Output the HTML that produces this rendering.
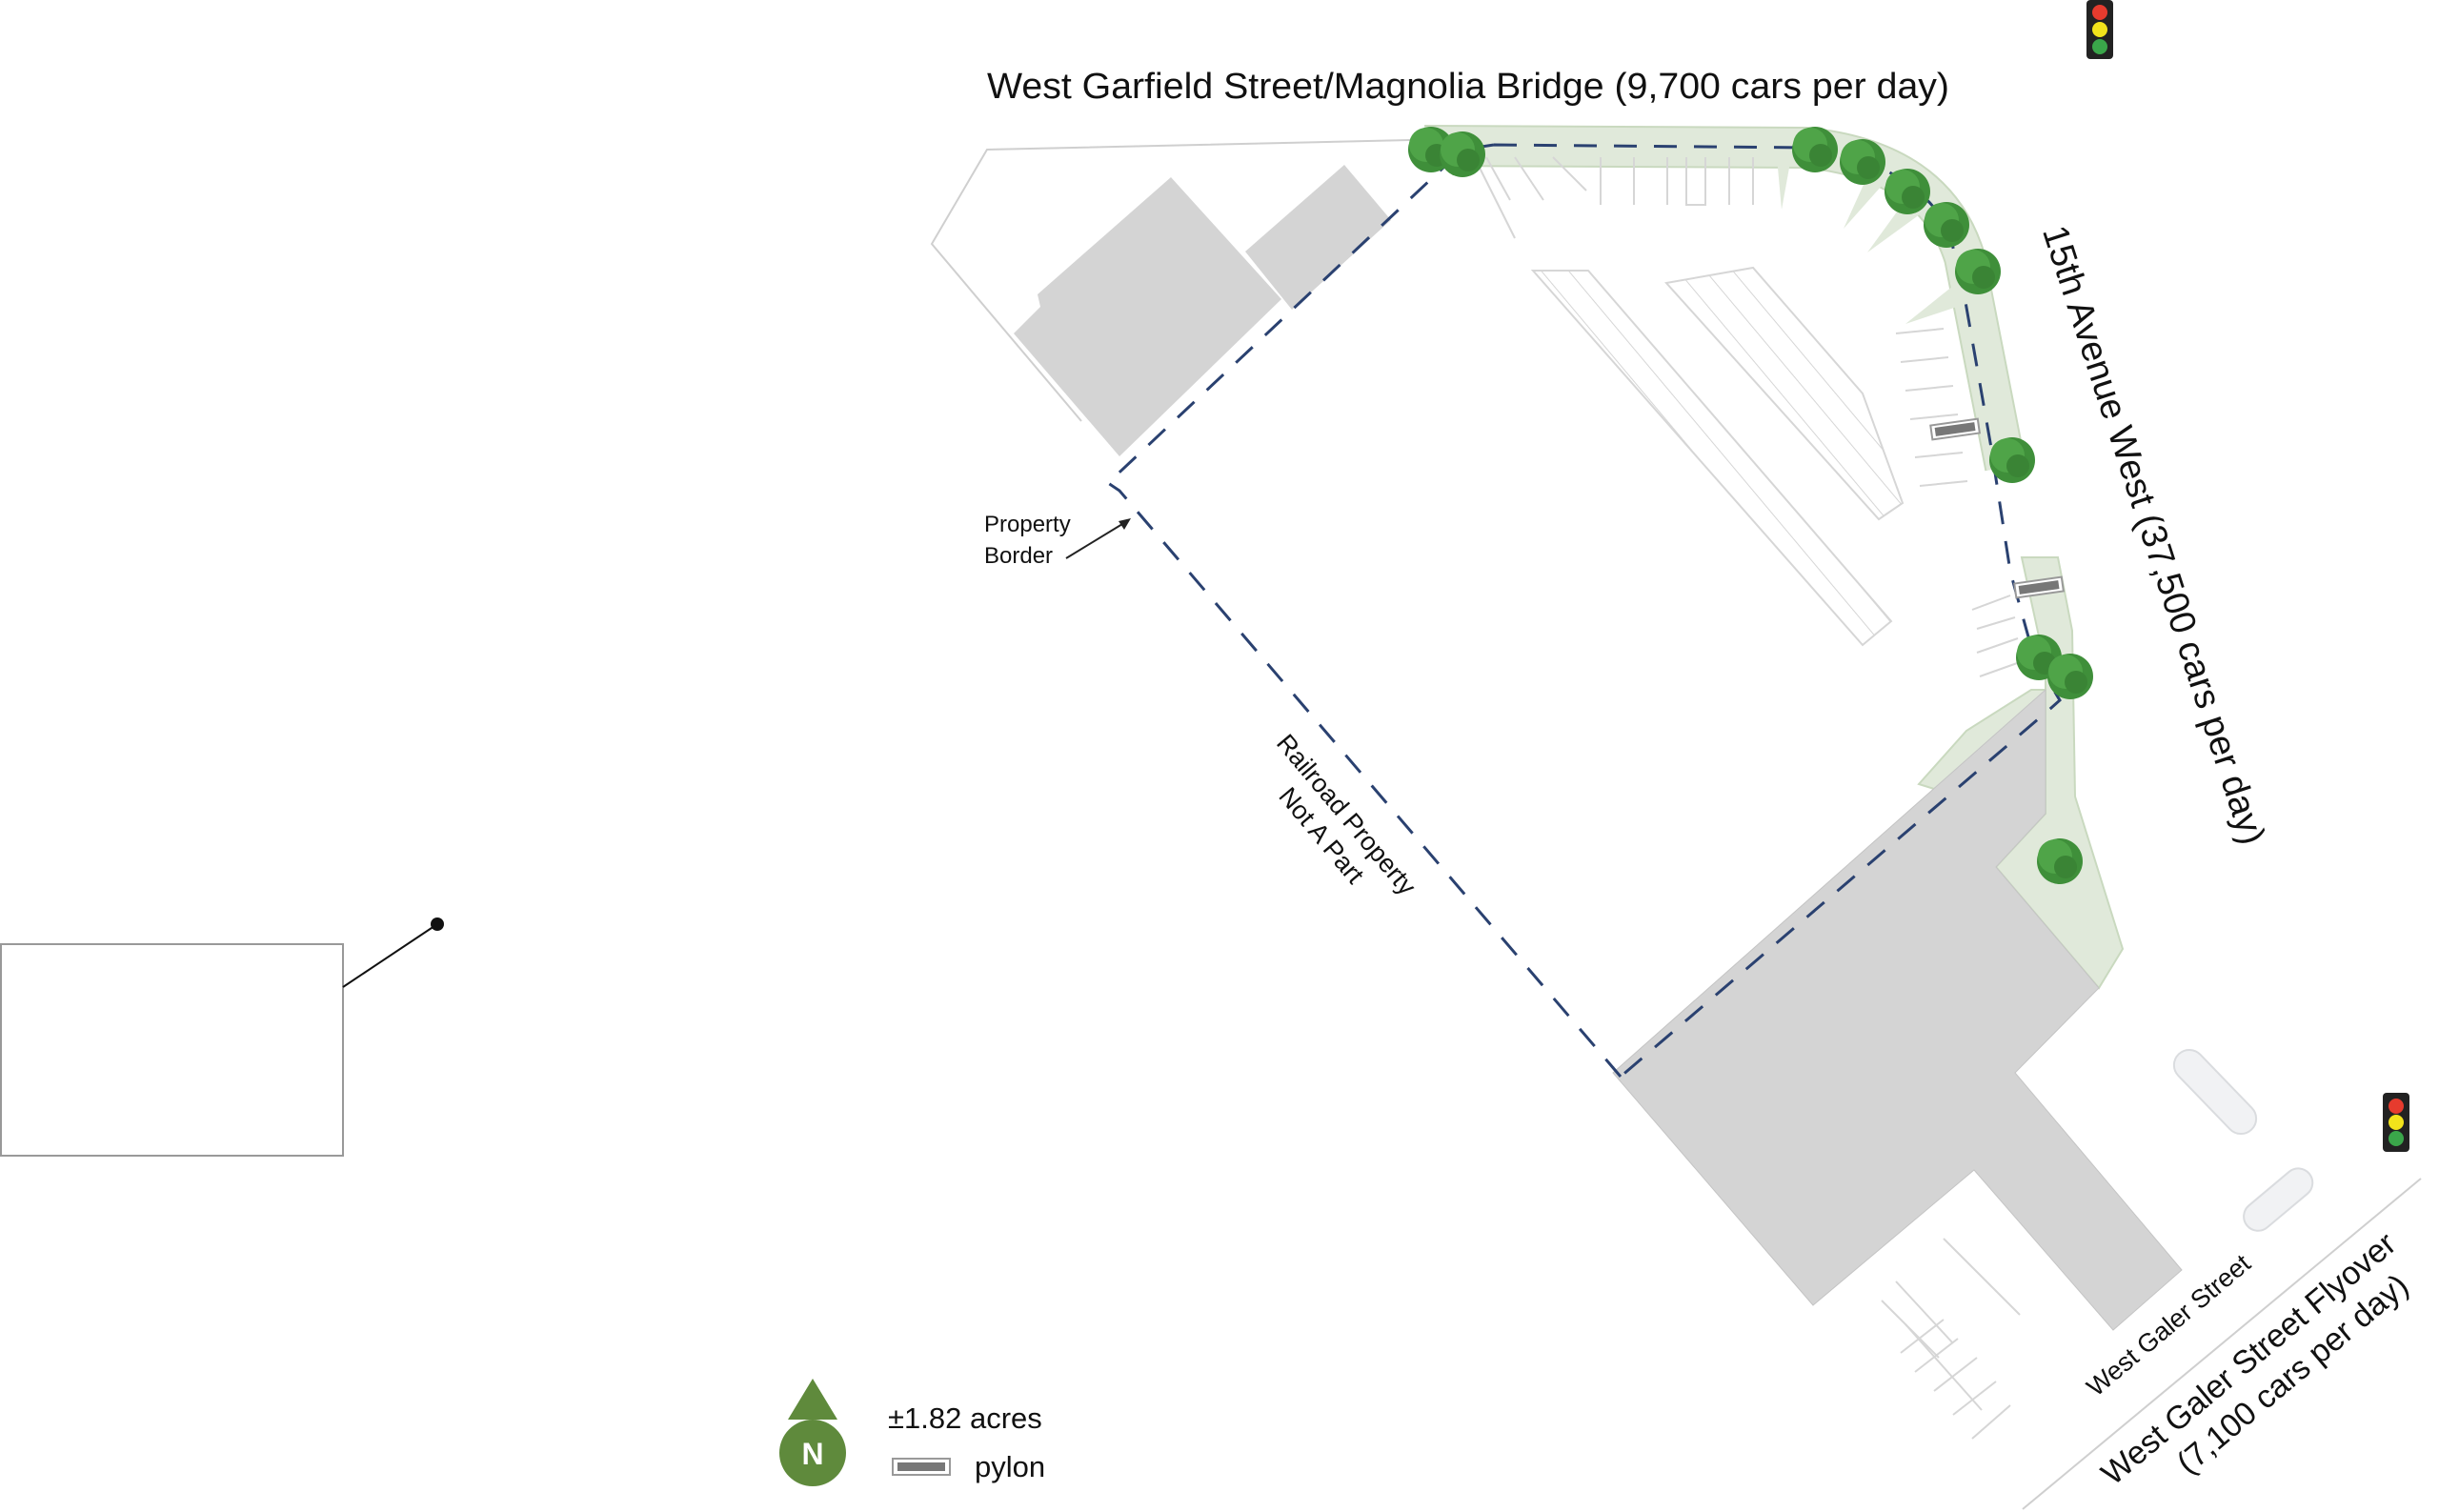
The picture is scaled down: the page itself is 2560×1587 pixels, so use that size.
<!DOCTYPE html>
<html><head><meta charset="utf-8"><style>html,body{margin:0;padding:0;background:#fff}svg{display:block}text{font-family:"Liberation Sans",sans-serif;fill:#111}</style></head>
<body>
<svg width="2560" height="1587" viewBox="0 0 2560 1587" xmlns="http://www.w3.org/2000/svg">
<defs>
<pattern id="h1" width="22" height="22" patternUnits="userSpaceOnUse" patternTransform="rotate(-40)"><line x1="0" y1="0" x2="0" y2="22" stroke="#d6d6d6" stroke-width="2"/></pattern>
<g id="tree"><circle r="24" fill="#3f8f3a"/><circle cx="-5" cy="-5" r="18" fill="#4fa448"/><circle cx="6" cy="6" r="12" fill="#3a8435"/></g>
</defs>
<polyline points="1480,147 1036,157 978,256 1135,442" fill="none" stroke="#cfcfcf" stroke-width="2"/>
<polygon points="1229,186 1345,314 1175,479 1064,350 1092,322 1089,309" fill="#d4d4d4"/>
<polygon points="1411,173 1460,231 1356,325 1307,264" fill="#d4d4d4"/>
<path d="M1495,153 L1895,155 Q2030,168 2062,270 L2105,490" fill="none" stroke="#c9d9bf" stroke-width="44" stroke-linejoin="round"/>
<path d="M1495,153 L1895,155 Q2030,168 2062,270 L2105,490" fill="none" stroke="#e0e9da" stroke-width="40" stroke-linejoin="round"/>
<polygon points="2122,585 2160,585 2175,662 2178,836 2228,996 2203,1037 2095,910 2147,854 2147,700" fill="#e0e9da" stroke="#c9d9bf" stroke-width="2"/>
<polygon points="2014,823 2064,767 2132,724 2147,724 2147,740 2030,828" fill="#e0e9da" stroke="#c9d9bf" stroke-width="2"/>
<polygon points="1865,165 1880,165 1870,220" fill="#e0e9da"/>
<polygon points="1960,185 1975,195 1935,240" fill="#e0e9da"/>
<polygon points="2000,210 2015,225 1960,265" fill="#e0e9da"/>
<polygon points="2050,300 2060,320 2000,340" fill="#e0e9da"/>
<g stroke="#d6d6d6" stroke-width="2" fill="none">
<path d="M1560,165 L1585,210 M1590,165 L1620,210 M1630,165 L1665,200 M1680,165 L1680,215 M1715,165 L1715,215 M1750,165 L1750,215 M1770,165 L1770,215 L1790,215 L1790,165 M1815,165 L1815,215 M1840,165 L1840,215"/>
<path d="M1550,170 L1590,250"/>
<path d="M1990,350 L2040,345 M1995,380 L2045,375 M2000,410 L2050,405 M2005,440 L2055,435 M2010,480 L2060,475 M2015,510 L2065,505"/>
<path d="M2070,640 L2110,625 M2075,660 L2115,648 M2075,685 L2118,670 M2078,710 L2120,695"/>
<path d="M1990,1345 L2050,1410 M1975,1365 L2035,1425 M2040,1300 L2120,1380"/>
<path d="M1995,1420 L2040,1385 M2010,1440 L2055,1405 M2030,1460 L2075,1425 M2050,1485 L2095,1450 M2070,1510 L2110,1475 M2000,1390 L2080,1480"/>
</g>
<polygon points="1609,284 1667,284 1985,652 1955,677" fill="url(#h1)" stroke="#d6d6d6" stroke-width="2"/>
<polygon points="1749,297 1840,281 1955,413 1997,528 1972,545" fill="url(#h1)" stroke="#d6d6d6" stroke-width="2"/>
<polygon points="1693,1126 2147,724 2147,854 2095,910 2203,1037 2115,1126 2290,1333 2218,1396 2072,1228 1903,1370" fill="#d4d4d4" stroke="#c4c4c4" stroke-width="1"/>
<rect x="2270" y="1130" width="110" height="32" rx="16" transform="rotate(46 2325 1146)" fill="#f1f2f4" stroke="#dadcdf" stroke-width="2"/>
<rect x="2345" y="1240" width="85" height="30" rx="15" transform="rotate(-40 2395 1252)" fill="#f1f2f4" stroke="#dadcdf" stroke-width="2"/>
<line x1="2123" y1="1584" x2="2541" y2="1237" stroke="#cfcfcf" stroke-width="2"/>
<path d="M1568,152 L1905,155 Q2010,175 2045,240 L2060,300 L2090,470 L2110,600 L2135,690 L2162,735 L2153,743 L1701,1130 L1693,1120 M1701,1130 L1175,515 L1163,507 L1535,157 L1568,152" fill="none" stroke="#2a4170" stroke-width="3" stroke-dasharray="24,18"/>
<use href="#tree" x="1502" y="157"/><use href="#tree" x="1535" y="162"/>
<use href="#tree" x="1905" y="157"/><use href="#tree" x="1955" y="170"/><use href="#tree" x="2002" y="201"/><use href="#tree" x="2043" y="236"/>
<use href="#tree" x="2076" y="285"/><use href="#tree" x="2112" y="483"/><use href="#tree" x="2140" y="690"/><use href="#tree" x="2173" y="710"/><use href="#tree" x="2162" y="904"/>
<g transform="rotate(-8 2052 450)"><rect x="2027" y="443" width="50" height="15" fill="#fff" stroke="#999" stroke-width="2"/><rect x="2031" y="446" width="42" height="9" fill="#777"/></g>
<g transform="rotate(-8 2140 616)"><rect x="2115" y="609" width="50" height="15" fill="#fff" stroke="#999" stroke-width="2"/><rect x="2119" y="612" width="42" height="9" fill="#777"/></g>
<g><rect x="2190" y="0" width="28" height="62" rx="4" fill="#222"/><circle cx="2204" cy="13" r="8" fill="#e63b2e"/><circle cx="2204" cy="31" r="8" fill="#f2e31b"/><circle cx="2204" cy="49" r="8" fill="#3aa64a"/></g>
<g><rect x="2501" y="1147" width="28" height="62" rx="4" fill="#222"/><circle cx="2515" cy="1161" r="8" fill="#e63b2e"/><circle cx="2515" cy="1178" r="8" fill="#f2e31b"/><circle cx="2515" cy="1195" r="8" fill="#3aa64a"/></g>
<text x="1036" y="103" font-size="38" textLength="1010" lengthAdjust="spacingAndGlyphs">West Garfield Street/Magnolia Bridge (9,700 cars per day)</text>
<text transform="translate(2262,561) rotate(72)" font-size="38" text-anchor="middle" textLength="680" lengthAdjust="spacingAndGlyphs" y="14">15th Avenue West (37,500 cars per day)</text>
<g transform="translate(1400,866) rotate(50)" font-size="27" text-anchor="middle"><text y="-8">Railroad Property</text><text y="26">Not A Part</text></g>
<text x="1033" y="558" font-size="24">Property</text><text x="1033" y="591" font-size="24">Border</text>
<line x1="1119" y1="586" x2="1183" y2="547" stroke="#222" stroke-width="2"/><polygon points="1187,544 1174,547 1180,556" fill="#222"/>
<text transform="translate(2282,1398) rotate(-40)" font-size="27" text-anchor="middle">West Galer Street</text>
<g transform="rotate(-40 2370 1430)" font-size="34" text-anchor="middle"><text x="2365" y="1432">West Galer Street Flyover</text><text x="2390" y="1474">(7,100 cars per day)</text></g>
<polygon points="853,1447 827,1490 879,1490" fill="#5f8a3c"/>
<circle cx="853" cy="1525" r="35" fill="#5f8a3c"/>
<text x="853" y="1537" font-size="32" font-weight="bold" text-anchor="middle" style="fill:#fff">N</text>
<text x="932" y="1499" font-size="31">±1.82 acres</text>
<rect x="937" y="1531" width="60" height="17" fill="#fff" stroke="#999" stroke-width="2"/><rect x="942" y="1535" width="50" height="9" fill="#777"/>
<text x="1023" y="1550" font-size="31">pylon</text>
<rect x="1" y="991" width="359" height="222" fill="#fff" stroke="#999" stroke-width="2"/>
<line x1="360" y1="1036" x2="459" y2="970" stroke="#111" stroke-width="2"/>
<circle cx="459" cy="970" r="7" fill="#111"/>
</svg>
</body></html>
